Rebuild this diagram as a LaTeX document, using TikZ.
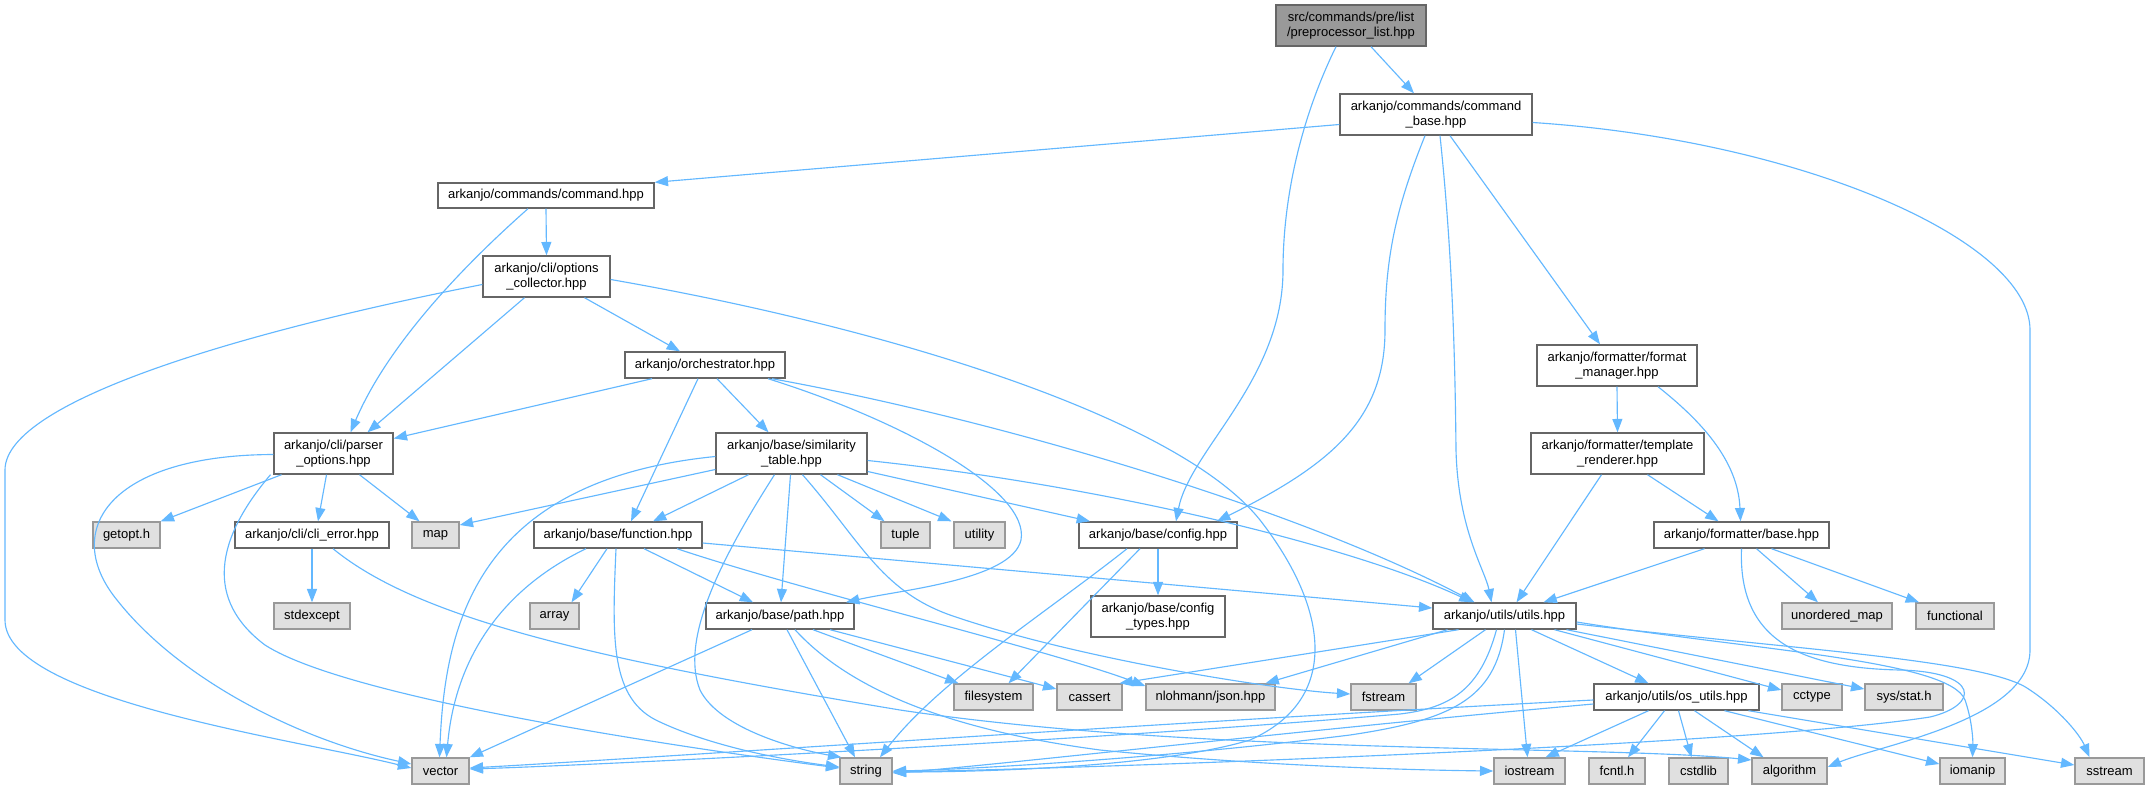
\documentclass[tikz,border=0pt]{standalone}
\usepackage{fontspec}
\setmainfont{Liberation Sans}
\usetikzlibrary{arrows.meta,calc}
\definecolor{edgeblue}{HTML}{63B8FF}
\definecolor{bordA}{HTML}{666666}
\definecolor{bordB}{HTML}{999999}
\definecolor{fillExt}{HTML}{E0E0E0}
\definecolor{fillRoot}{HTML}{999999}
\newcommand\mknode[7]{\node[#2,minimum width={(#4-#3)*0.75pt},minimum height={(#6-#5)*0.75pt}] (#1) at ({(#3+#4)/2},{(#5+#6)/2}) {#7};}
\begin{document}
\begin{tikzpicture}[x=0.75pt,y=-0.75pt,
  box/.style={draw=bordA,fill=white,line width=1.05pt,inner sep=0pt,align=center,font=\fontsize{9.75}{11.25}\selectfont},
  ext/.style={box,draw=bordB,fill=fillExt},
  rootbox/.style={box,fill=fillRoot,draw=bordA},
  e/.style={draw=edgeblue,line width=0.85pt,-{Triangle[length=10pt,width=7.5pt]}}]
\fill[white] (0,0) rectangle (2149,789);
\useasboundingbox (0,0) rectangle (2149,789);
% nodes
\mknode{root}{rootbox}{1276}{1426}{5}{46}{src/commands/pre/list\\/preprocessor\_list.hpp}
\mknode{cmdbase}{box}{1340}{1532}{94}{135}{arkanjo/commands/command\\\_base.hpp}
\mknode{command}{box}{438}{654}{183}{208}{arkanjo/commands/command.hpp}
\mknode{optcol}{box}{483}{610}{256}{297}{arkanjo/cli/options\\\_collector.hpp}
\mknode{orch}{box}{625}{785}{352}{378}{arkanjo/orchestrator.hpp}
\mknode{fmtmgr}{box}{1537}{1697}{345}{386}{arkanjo/formatter/format\\\_manager.hpp}
\mknode{parser}{box}{274}{393}{433}{474}{arkanjo/cli/parser\\\_options.hpp}
\mknode{simtab}{box}{716}{867}{433}{474}{arkanjo/base/similarity\\\_table.hpp}
\mknode{tmpl}{box}{1531}{1704}{433}{474}{arkanjo/formatter/template\\\_renderer.hpp}
\mknode{getopt}{ext}{93}{160}{522}{548}{getopt.h}
\mknode{clierr}{box}{235}{389}{522}{548}{arkanjo/cli/cli\_error.hpp}
\mknode{map}{ext}{412}{459}{522}{548}{map}
\mknode{function}{box}{534}{702}{522}{548}{arkanjo/base/function.hpp}
\mknode{tuple}{ext}{881}{930}{522}{548}{tuple}
\mknode{utility}{ext}{954}{1005}{522}{548}{utility}
\mknode{config}{box}{1079}{1237}{522}{548}{arkanjo/base/config.hpp}
\mknode{fbase}{box}{1654}{1829}{522}{548}{arkanjo/formatter/base.hpp}
\mknode{stdexcept}{ext}{274}{350}{603}{629}{stdexcept}
\mknode{array}{ext}{530}{579}{603}{629}{array}
\mknode{path}{box}{706}{854}{603}{629}{arkanjo/base/path.hpp}
\mknode{cfgtypes}{box}{1091}{1225}{596}{637}{arkanjo/base/config\\\_types.hpp}
\mknode{utils}{box}{1433}{1576}{603}{629}{arkanjo/utils/utils.hpp}
\mknode{umap}{ext}{1782}{1892}{603}{629}{unordered\_map}
\mknode{functional}{ext}{1916}{1994}{603}{629}{functional}
\mknode{filesystem}{ext}{954}{1033}{684}{710}{filesystem}
\mknode{cassert}{ext}{1057}{1122}{684}{710}{cassert}
\mknode{json}{ext}{1146}{1275}{684}{710}{nlohmann/json.hpp}
\mknode{fstream}{ext}{1351}{1416}{684}{710}{fstream}
\mknode{osutils}{box}{1594}{1759}{684}{710}{arkanjo/utils/os\_utils.hpp}
\mknode{cctype}{ext}{1782}{1842}{684}{710}{cctype}
\mknode{sysstat}{ext}{1865}{1943}{684}{710}{sys/stat.h}
\mknode{vector}{ext}{412}{469}{758}{784}{vector}
\mknode{string}{ext}{840}{892}{758}{784}{string}
\mknode{iostream}{ext}{1494}{1565}{758}{784}{iostream}
\mknode{fcntl}{ext}{1589}{1645}{758}{784}{fcntl.h}
\mknode{cstdlib}{ext}{1669}{1728}{758}{784}{cstdlib}
\mknode{algorithm}{ext}{1752}{1827}{758}{784}{algorithm}
\mknode{iomanip}{ext}{1940}{2005}{758}{784}{iomanip}
\mknode{sstream}{ext}{2075}{2144}{758}{784}{sstream}
% edges
\draw[e] ($(root.south)+(20,0)$) -- ($(cmdbase.north)+(-22,0)$);
\draw[e] ($(root.south)+(-15,0)$) .. controls (1300,120) and (1283,200) .. (1283,270) .. controls (1283,380) and (1190,450) .. ($(config.north)+(18,0)$);
\draw[e] ($(cmdbase.west)+(0,10)$) -- (command.north east);
\draw[e] ($(cmdbase.south)+(-11,0)$) .. controls (1395,210) and (1385,260) .. (1385,330) .. controls (1385,420) and (1330,465) .. ($(config.north)+(59,0)$);
\draw[e] ($(cmdbase.south)+(4,0)$) .. controls (1452,250) and (1455,350) .. (1456,450) .. controls (1458,530) and (1485,570) .. ($(utils.north)+(-13,0)$);
\draw[e] ($(cmdbase.south)+(14,0)$) -- ($(fmtmgr.north)+(-17,0)$);
\draw[e] ($(cmdbase.east)+(0,8)$) .. controls (1800,140) and (2030,240) .. (2030,330) -- (2030,650) .. controls (2030,720) and (1880,745) .. ($(algorithm.east)+(0,-4)$);
\draw[e] (command.south) -- (optcol.north);
\draw[e] ($(command.south)+(-18,0)$) .. controls (470,260) and (390,340) .. ($(parser.north)+(17,0)$);
\draw[e] ($(optcol.west)+(0,8)$) .. controls (250,330) and (5,400) .. (5,470) -- (5,620) .. controls (5,700) and (300,740) .. ($(vector.west)+(0,-3)$);
\draw[e] ($(optcol.south)+(-22,0)$) -- ($(parser.north)+(34,0)$);
\draw[e] ($(optcol.south)+(38,0)$) -- ($(orch.north)+(-25,0)$);
\draw[e] ($(optcol.east)+(0,3)$) .. controls (900,330) and (1180,420) .. (1260,520) .. controls (1330,610) and (1340,700) .. (1250,740) .. controls (1150,770) and (950,772) .. ($(string.east)+(0,1)$);
\draw[e] ($(orch.south)+(-53,0)$) -- ($(parser.east)+(0,-15)$);
\draw[e] ($(orch.south)+(-7,0)$) -- ($(function.north)+(13,0)$);
\draw[e] ($(orch.south)+(12,0)$) -- ($(simtab.north)+(-23,0)$);
\draw[e] ($(orch.south)+(63,0)$) .. controls (900,420) and (1030,490) .. (1021,540) .. controls (1012,580) and (900,590) .. ($(path.north)+(66,0)$);
\draw[e] ($(orch.south)+(67,0)$) .. controls (1000,420) and (1300,510) .. ($(utils.north)+(-30,0)$);
\draw[e] ($(simtab.west)+(0,3)$) .. controls (480,480) and (445,620) .. ($(vector.north)+(-1,0)$);
\draw[e] ($(simtab.west)+(0,16)$) -- ($(map.east)+(0,-10)$);
\draw[e] ($(simtab.south)+(-43,0)$) -- ($(function.north)+(35,0)$);
\draw[e] ($(simtab.south)+(-17,0)$) .. controls (720,560) and (680,640) .. (700,690) .. controls (720,730) and (800,750) .. ($(string.north west)+(2,0)$);
\draw[e] ($(simtab.south)+(-1,0)$) -- ($(path.north)+(1,0)$);
\draw[e] ($(simtab.south)+(11,0)$) .. controls (860,540) and (880,590) .. (950,615) .. controls (1080,660) and (1280,690) .. ($(fstream.west)+(0,-3)$);
\draw[e] ($(simtab.south)+(29,0)$) -- ($(tuple.north)+(-21,0)$);
\draw[e] ($(simtab.south)+(46,0)$) -- ($(utility.north)+(-28,0)$);
\draw[e] ($(simtab.east)+(0,7)$) .. controls (1100,485) and (1350,545) .. ($(utils.north)+(-32,0)$);
\draw[e] ($(simtab.east)+(0,18)$) -- ($(config.north)+(-68,0)$);
\draw[e] ($(parser.south)+(-52,0)$) -- (getopt.north east);
\draw[e] ($(parser.south)+(-7,0)$) -- ($(clierr.north)+(6,0)$);
\draw[e] ($(parser.south)+(26,0)$) -- ($(map.north)+(-16,0)$);
\draw[e] ($(parser.west)+(0,1)$) .. controls (110,455) and (60,530) .. (117,600) .. controls (180,680) and (300,740) .. ($(vector.west)+(0,-7)$);
\draw[e] ($(parser.south)+(-63,0)$) .. controls (215,540) and (205,600) .. (265,645) .. controls (350,700) and (700,750) .. ($(string.west)+(0,-3)$);
\draw[e] (clierr.south) -- (stdexcept.north);
\draw[e] ($(clierr.south)+(21,0)$) .. controls (420,620) and (600,660) .. (900,710) .. controls (1200,755) and (1600,745) .. ($(algorithm.west)+(0,-11)$);
\draw[e] ($(function.south)+(-32,0)$) .. controls (500,590) and (455,660) .. ($(vector.north)+(6,0)$);
\draw[e] ($(function.south)+(-11,0)$) -- ($(array.north)+(17,0)$);
\draw[e] ($(function.south)+(-2,0)$) .. controls (612,640) and (610,700) .. (660,722) .. controls (720,750) and (800,762) .. ($(string.west)+(0,-4)$);
\draw[e] ($(function.south)+(26,0)$) -- ($(path.north)+(-27,0)$);
\draw[e] ($(function.south)+(59,0)$) .. controls (800,590) and (1050,650) .. ($(json.west)+(0,-11)$);
\draw[e] ($(function.east)+(0,8)$) -- ($(utils.west)+(0,-8)$);
\draw[e] ($(path.south)+(-28,0)$) -- (vector.north east);
\draw[e] ($(path.south)+(7,0)$) -- ($(string.north)+(-11,0)$);
\draw[e] ($(path.south)+(15,0)$) .. controls (850,690) and (950,730) .. (1100,750) .. controls (1250,765) and (1400,770) .. (iostream.west);
\draw[e] ($(path.south)+(33,0)$) -- ($(filesystem.north)+(-35,0)$);
\draw[e] ($(path.south)+(50,0)$) -- ($(cassert.west)+(0,-8)$);
\draw[e] ($(config.south)+(-31,0)$) .. controls (1050,610) and (940,680) .. ($(string.north)+(14,0)$);
\draw[e] ($(config.south)+(-18,0)$) -- ($(filesystem.north)+(15,0)$);
\draw[e] (config.south) -- (cfgtypes.north);
\draw[e] ($(tmpl.south)+(-16,0)$) -- ($(utils.north)+(12,0)$);
\draw[e] ($(tmpl.south)+(30,0)$) -- ($(fbase.north)+(-23,0)$);
\draw[e] (fmtmgr.south) -- (tmpl.north);
\draw[e] ($(fmtmgr.south)+(41,0)$) .. controls (1700,420) and (1738,460) .. ($(fbase.north)+(-1,0)$);
\draw[e] ($(fbase.south)+(-37,0)$) -- ($(utils.north)+(39,0)$);
\draw[e] ($(fbase.south)+(15,0)$) -- ($(umap.north)+(-19,0)$);
\draw[e] ($(fbase.south)+(30,0)$) -- ($(functional.north)+(-36,0)$);
\draw[e] (fbase.south) .. controls (1738,640) and (1800,668) .. (1900,670) .. controls (1980,672) and (1980,705) .. (1930,717) .. controls (1750,745) and (1100,768) .. ($(string.east)+(0,1)$);
\draw[e] ($(utils.south)+(-46,0)$) -- ($(cassert.north)+(30,0)$);
\draw[e] ($(utils.south)+(-57,0)$) -- ($(json.north)+(55,0)$);
\draw[e] ($(utils.south)+(-19,0)$) -- ($(fstream.north)+(25,0)$);
\draw[e] ($(utils.south)+(-8,0)$) .. controls (1480,690) and (1450,708) .. (1400,714) .. controls (1100,740) and (600,765) .. ($(vector.east)+(0,-2)$);
\draw[e] (utils.south) .. controls (1495,700) and (1450,720) .. (1350,735) .. controls (1150,760) and (950,770) .. (string.east);
\draw[e] ($(utils.south)+(11,0)$) -- ($(iostream.north)+(-2,0)$);
\draw[e] ($(utils.south)+(27,0)$) -- ($(osutils.north)+(-28,0)$);
\draw[e] ($(utils.south)+(50,0)$) -- ($(cctype.west)+(0,-7)$);
\draw[e] ($(utils.south)+(62,0)$) -- ($(sysstat.west)+(0,-8)$);
\draw[e] ($(utils.east)+(0,6)$) .. controls (1750,650) and (1950,660) .. (1965,700) .. controls (1972,720) and (1973,740) .. (iomanip.north);
\draw[e] ($(utils.east)+(0,8)$) .. controls (1800,650) and (1990,660) .. (2030,690) .. controls (2060,710) and (2080,735) .. ($(sstream.north)+(-20,0)$);
\draw[e] ($(osutils.west)+(0,3)$) .. controls (1200,720) and (700,755) .. ($(vector.east)+(0,-3)$);
\draw[e] ($(osutils.west)+(0,7)$) .. controls (1300,730) and (1000,765) .. ($(string.east)+(0,2)$);
\draw[e] ($(osutils.south)+(-28,0)$) -- ($(iostream.north)+(16,0)$);
\draw[e] ($(osutils.south)+(-12,0)$) -- ($(fcntl.north)+(11,0)$);
\draw[e] ($(osutils.south)+(2,0)$) -- ($(cstdlib.north)+(-7,0)$);
\draw[e] ($(osutils.south)+(18,0)$) -- ($(algorithm.north)+(-26,0)$);
\draw[e] ($(osutils.south)+(48,0)$) -- ($(iomanip.west)+(0,-7)$);
\draw[e] ($(osutils.south)+(72,0)$) -- ($(sstream.west)+(0,-6)$);
\end{tikzpicture}
\end{document}
